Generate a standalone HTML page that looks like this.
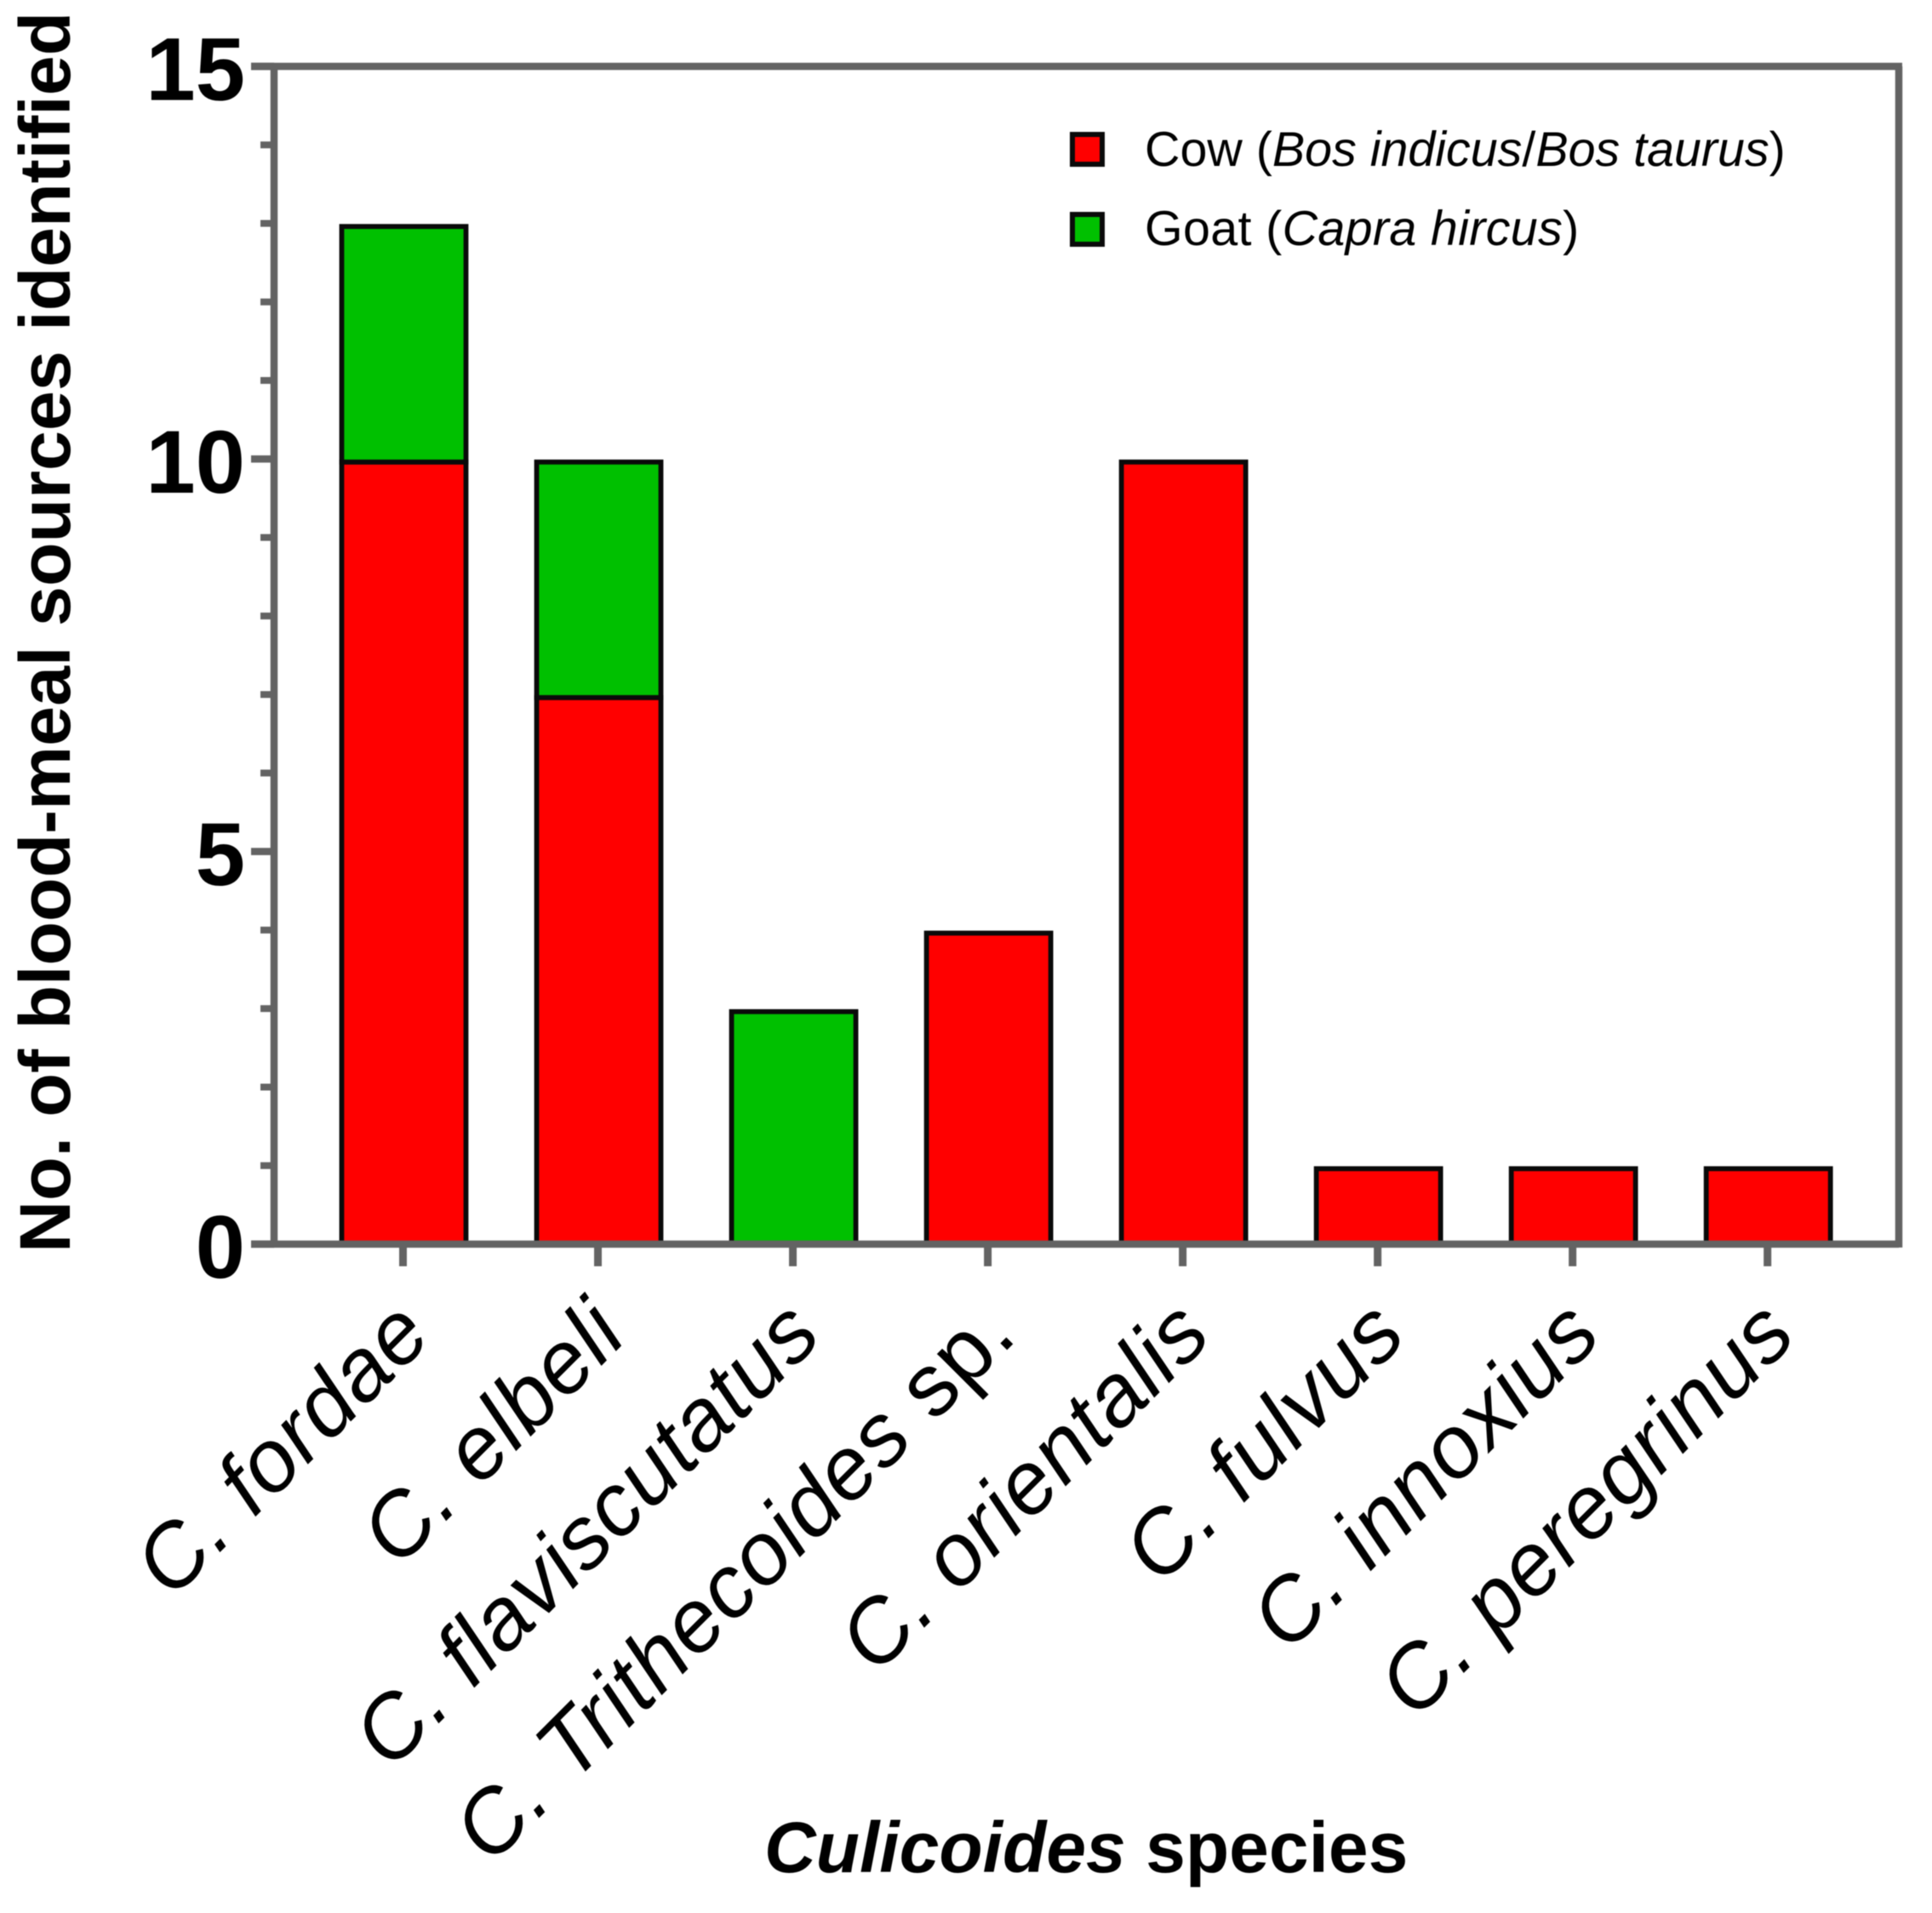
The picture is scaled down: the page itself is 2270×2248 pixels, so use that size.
<!DOCTYPE html>
<html lang="en">
<head>
<meta charset="utf-8">
<title>Blood-meal sources by Culicoides species</title>
<style>
html,body{margin:0;padding:0;background:#fff;width:2270px;height:2248px;overflow:hidden}
svg{display:block;position:absolute;left:0;top:0;filter:blur(0.6px)}
text{font-family:"Liberation Sans",Arial,sans-serif;fill:#000}
</style>
</head>
<body>
<svg id="chart" width="2270" height="2248" viewBox="0 0 2270 2248" xmlns="http://www.w3.org/2000/svg">
  <rect x="0" y="0" width="2270" height="2248" fill="#fff"/>
  <g id="bars"></g>
  <g id="axes"></g>
  <g id="ylabels"></g>
  <g id="xlabels"></g>
  <text transform="translate(82,1472) rotate(-90)" font-size="84.4" font-weight="700">No. of blood-meal sources identified</text>
  <text x="898" y="2200" font-size="84" font-weight="700"><tspan font-style="italic">Culicoides</tspan> species</text>
  <g>
    <rect x="1260" y="158" width="35" height="35" fill="#ff0000" stroke="#0a0a0a" stroke-width="6"/>
    <text x="1345" y="195" font-size="57.4">Cow (<tspan font-style="italic">Bos indicus</tspan>/<tspan font-style="italic">Bos taurus</tspan>)</text>
    <rect x="1260" y="252" width="35" height="35" fill="#00c000" stroke="#0a0a0a" stroke-width="6"/>
    <text x="1345" y="288" font-size="57.4" letter-spacing="0.35">Goat (<tspan font-style="italic">Capra hircus</tspan>)</text>
  </g>
</svg>
<script>
const categories = ["C. fordae", "C. elbeli", "C. flaviscutatus", "C. Trithecoides sp.", "C. orientalis", "C. fulvus", "C. innoxius", "C. peregrinus"];
const cowValues = [10, 7, 0, 4, 10, 1, 1, 1];
const goatValues = [3, 3, 3, 0, 0, 0, 0, 0];
const yTickLabels = [0, 5, 10, 15];
const yMinorTicks = [1, 2, 3, 4, 6, 7, 8, 9, 11, 12, 13, 14];

const NS = "http://www.w3.org/2000/svg";
const plotLeft = 322, plotRight = 2231, plotTop = 78, plotBottom = 1462;
const yMax = 15;
const firstCenter = 473.5, step = 229.03;
const axisColor = "#636363";
function yScale(v) { return plotBottom - v * (plotBottom - plotTop) / yMax; }
function xScale(i) { return firstCenter + i * step; }
function make(tag, attrs) {
  const el = document.createElementNS(NS, tag);
  for (const k in attrs) el.setAttribute(k, attrs[k]);
  return el;
}
const barsG = document.getElementById("bars");
const axesG = document.getElementById("axes");
const yLabG = document.getElementById("ylabels");
const xLabG = document.getElementById("xlabels");

function drawSegment(i, from, to, fill, name) {
  if (to === from) return;
  const top = yScale(to) + 3.6;
  const bottom = from === 0 ? plotBottom : yScale(from) + 3.6;
  const r = make("rect", { x: xScale(i) + 1 - 73, y: top, width: 146, height: bottom - top, fill: fill, stroke: "#0a0a0a", "stroke-width": 5.8 });
  
  
  barsG.appendChild(r);
}
categories.forEach(function (c, i) {
  drawSegment(i, 0, cowValues[i], "#ff0000", "bar-cow");
  drawSegment(i, cowValues[i], cowValues[i] + goatValues[i], "#00c000", "bar-goat");
});

const frame = make("path", { d: "M295 " + plotBottom + "H" + plotRight + "M" + plotRight + " " + (plotBottom + 4) + "V" + plotTop + "M295 " + plotTop + "H" + (plotRight + 4) + "M" + plotLeft + " " + plotTop + "V" + plotBottom, fill: "none", stroke: axisColor, "stroke-width": 8.5 });


axesG.appendChild(frame);

yMinorTicks.forEach(function (v) {
  const t = make("line", { x1: 306, x2: plotLeft, y1: yScale(v), y2: yScale(v), stroke: axisColor, "stroke-width": 8 });
  
  
  axesG.appendChild(t);
});
yTickLabels.forEach(function (v) {
  const t = make("line", { x1: 295, x2: plotLeft, y1: yScale(v), y2: yScale(v), stroke: axisColor, "stroke-width": 8.5 });
  
  
  axesG.appendChild(t);
  const l = make("text", { x: 288, y: yScale(v) + 39.5, "text-anchor": "end", "font-size": 105, "font-weight": 700 });
  l.textContent = String(v);
  
  
  yLabG.appendChild(l);
});
categories.forEach(function (c, i) {
  const t = make("line", { x1: xScale(i), x2: xScale(i), y1: plotBottom, y2: 1488, stroke: axisColor, "stroke-width": 9 });
  
  
  axesG.appendChild(t);
  const x = xScale(i) + 37, y = 1572;
  const l = make("text", { transform: "translate(" + x + "," + y + ") rotate(-45)", "text-anchor": "end", "font-size": 104, "letter-spacing": 1 });
  const hasSp = c.endsWith(" sp.");
  const it = make("tspan", { "font-style": "italic" });
  it.textContent = hasSp ? c.slice(0, -3) : c;
  l.appendChild(it);
  if (hasSp) l.appendChild(document.createTextNode("sp."));
  
  
  xLabG.appendChild(l);
});
</script>
</body>
</html>
